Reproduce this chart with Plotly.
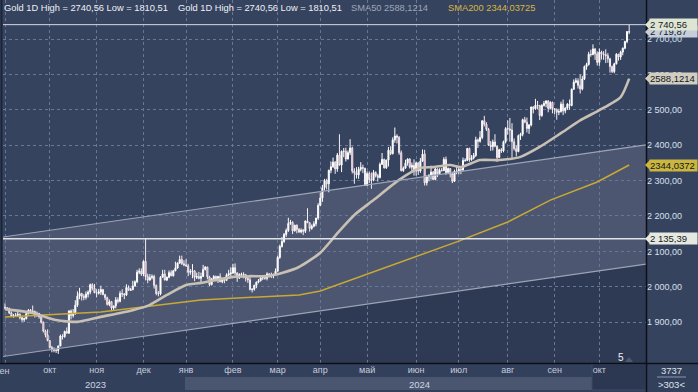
import plotly.graph_objects as go
import pandas as pd

# ---------------- data ----------------
opens = [1942,1940,1939,1926,1916,1919,1919,1922,1913,1907,1910,1924,1934,1931,1930,1920,1925,1916,1900,1875,1864,
         1848,1828,1822,1821,1820,1833,1861,1859,1874,1869,1932,1919,1923,1948,1974,1981,1973,1970,1979,1985,2006,1996,
         1983,1982,1985,1992,1978,1969,1950,1958,1940,1946,1963,1959,1981,1980,1977,1998,1990,1992,2002,2014,2041,2044,
         2036,2072,2029,2019,2026,2029,2004,1981,1980,2027,2036,2019,2027,2040,2031,2045,2053,2067,2077,2065,
         2062,2059,2041,2043,2045,2027,2029,2024,2029,2049,2056,2028,2006,2023,2029,2022,2029,2014,2020,2018,2033,2037,
         2039,2054,2039,2025,2035,2036,2034,2024,2020,1992,1993,2004,2013,2017,2025,2026,2024,2036,2031,2033,2035,
         2044,2083,2114,2128,2148,2159,2179,2182,2158,2174,2162,2155,2160,2157,2186,2181,2165,2171,2178,2194,
         2230,2251,2280,2300,2291,2329,2339,2352,2333,2372,2344,2383,2383,2361,2379,2392,2327,2322,2316,2332,2337,2335,
         2286,2320,2303,2301,2323,2314,2309,2346,2360,2336,2358,2386,2376,2415,2426,2422,2379,2328,2335,2350,2361,2338,2343,
         2327,2350,2327,2355,2375,2294,2311,2316,2324,2303,2333,2319,2329,2328,2360,2322,2334,2319,2298,2327,
         2326,2332,2330,2357,2357,2391,2359,2364,2371,2415,2411,2422,2469,2459,2445,2400,2396,2409,2397,2365,2387,2384,2410,
         2447,2446,2443,2410,2390,2382,2427,2431,2472,2465,2447,2457,2508,2503,2513,2512,2484,2512,2518,2525,2504,2521,
         2503,2500,2493,2495,2516,2497,2505,2516,2512,2558,2578,2582,2569,2559,2587,2622,2628,2657,2656,2672,2658,
         2634,2663,2658,2656,2653,2644,2622,2608,2630,2657,2649,2663,2674,2693,2721]
highs = [1953,1943,1941,1930,1923,1926,1930,1925,1915,1913,1928,1937,1937,1947,1933,1930,1926,1917,1902,1879,1880,
         1850,1833,1829,1826,1834,1865,1866,1876,1885,1933,1936,1937,1962,1987,1997,1983,1979,1987,1990,2009,2010,2008,
         1993,1994,2003,1994,1980,1972,1964,1960,1947,1971,1970,1988,1993,1982,2007,2004,1997,2017,2018,2048,2052,2052,
         2075,2135.39,2037,2036,2035,2034,2006,1988,2030,2048,2048,2029,2046,2047,2048,2071,2069,2088,2088,2075,
         2078,2065,2050,2064,2047,2040,2042,2040,2062,2058,2056,2031,2023,2033,2032,2031,2038,2023,2025,2038,2048,2055,
         2065,2066,2041,2038,2040,2041,2036,2028,2031,1996,2006,2015,2022,2031,2031,2034,2041,2039,2040,2037,2052,
         2088,2119,2141,2152,2165,2195,2189,2185,2175,2176,2166,2165,2163,2187,2222,2183,2176,2185,2195,2236,
         2266,2288,2305,2305,2331,2354,2365,2355,2378,2431,2385,2392,2393,2385,2417,2396,2335,2338,2339,2352,2345,2336,
         2326,2326,2323,2330,2326,2319,2351,2378,2362,2359,2395,2397,2422,2450,2431,2426,2385,2340,2359,2363,2363,2351,2360,
         2354,2352,2364,2388,2387,2315,2317,2342,2327,2339,2334,2335,2336,2366,2368,2337,2335,2325,2331,2339,
         2339,2335,2365,2363,2392,2393,2372,2378,2424,2419,2440,2470,2483,2465,2449,2412,2416,2431,2399,2390,2392,2413,2451,
         2470,2477,2462,2419,2400,2430,2435,2475,2480,2478,2460,2509,2510,2531,2525,2514,2516,2525,2527,2527,2524,2523,
         2505,2504,2503,2523,2529,2507,2519,2529,2560,2586,2590,2589,2600,2596,2625,2633,2664,2670,2685,2674,2665,
         2673,2667,2666,2671,2660,2647,2625,2633,2660,2658,2667,2676,2695,2722,2740.56]
lows = [1936,1935,1923,1915,1913,1915,1917,1908,1901,1901,1908,1922,1927,1928,1913,1915,1910,1896,1871,1857,1846,
        1827,1815,1815,1813,1810.51,1832,1851,1856,1868,1867,1908,1913,1922,1943,1965,1961,1962,1964,1970,1979,1990,1982,
        1970,1978,1977,1976,1962,1947,1945,1931,1932,1939,1953,1956,1971,1965,1974,1990,1988,1990,2001,2010,2036,2031,
        2030,2018,2010,2017,2021,1995,1976,1973,1976,2026,2018,2016,2024,2030,2029,2044,2051,2065,2062,2058,
        2057,2030,2034,2024,2016,2022,2021,2013,2028,2046,2021,2002,2004,2017,2015,2011,2014,2010,2010,2016,2030,2030,
        2036,2032,2014,2022,2028,2024,2015,2011,1990,1984,1989,1996,2010,2015,2019,2020,2018,2026,2025,2024,2031,
        2043,2079,2111,2124,2141,2155,2175,2149,2156,2151,2152,2151,2146,2152,2180,2156,2161,2168,2171,2189,
        2229,2240,2272,2275,2267,2321,2336,2319,2325,2342,2324,2366,2354,2360,2372,2320,2291,2306,2305,2326,2321,2285,
        2285,2293,2277,2298,2309,2297,2306,2344,2334,2333,2340,2372,2374,2407,2405,2373,2326,2325,2334,2342,2334,2323,2314,
        2314,2316,2322,2353,2286,2286,2298,2303,2301,2302,2310,2316,2326,2327,2316,2318,2309,2293,2296,2318,
        2318,2318,2327,2353,2355,2353,2356,2360,2367,2392,2407,2417,2453,2440,2398,2384,2385,2394,2353,2364,2378,2380,2405,
        2430,2410,2364,2385,2368,2380,2415,2425,2462,2436,2432,2453,2490,2500,2502,2471,2480,2509,2507,2493,2502,2490,
        2488,2472,2485,2492,2485,2490,2500,2500,2510,2556,2575,2560,2546,2555,2584,2613,2625,2650,2654,2641,2625,
        2624,2642,2641,2632,2633,2605,2604,2603,2628,2639,2641,2654,2671,2688,2714]
closes = [1940,1939,1926,1916,1919,1919,1922,1913,1907,1910,1924,1934,1931,1930,1920,1925,1916,1900,1875,1864,1848,
          1828,1822,1821,1820,1833,1861,1859,1874,1869,1932,1919,1923,1948,1974,1981,1973,1970,1979,1985,2006,1996,1983,
          1982,1985,1992,1978,1969,1950,1958,1940,1946,1963,1959,1981,1980,1977,1998,1990,1992,2002,2014,2041,2044,2036,
          2072,2029,2019,2026,2029,2004,1981,1980,2027,2036,2019,2027,2040,2031,2045,2053,2067,2077,2065,2062,
          2059,2041,2043,2045,2027,2029,2024,2029,2049,2056,2028,2006,2023,2029,2022,2029,2014,2020,2018,2033,2037,2039,
          2054,2039,2025,2035,2036,2034,2024,2020,1992,1993,2004,2013,2017,2025,2026,2024,2036,2031,2033,2035,2044,
          2083,2114,2128,2148,2159,2179,2182,2158,2174,2162,2155,2160,2157,2186,2181,2165,2171,2178,2194,2230,
          2251,2280,2300,2291,2329,2339,2352,2333,2372,2344,2383,2383,2361,2379,2392,2327,2322,2316,2332,2337,2335,2286,
          2320,2303,2301,2323,2314,2309,2346,2360,2336,2358,2386,2376,2415,2426,2422,2379,2328,2335,2350,2361,2338,2343,2327,
          2350,2327,2355,2375,2294,2311,2316,2324,2303,2333,2319,2329,2328,2360,2322,2334,2319,2298,2327,2326,
          2332,2330,2357,2357,2391,2359,2364,2371,2415,2411,2422,2469,2459,2445,2400,2396,2409,2397,2365,2387,2384,2410,2447,
          2446,2443,2410,2390,2382,2427,2431,2472,2465,2447,2457,2508,2503,2513,2512,2484,2512,2518,2525,2504,2521,2503,
          2500,2493,2495,2516,2497,2505,2516,2512,2558,2578,2582,2569,2559,2587,2622,2628,2657,2656,2672,2658,2634,
          2663,2658,2656,2653,2644,2622,2608,2630,2657,2649,2663,2674,2693,2721,2719.87]

# moving averages (indicator values at bar indices)
sma50_idx = [0,13,24,34,45,60,68,76,85,92,107,115,123,130,138,148,157,164,173,185,195,201,209,214,223,232,242,251,261,270,279,289,293]
sma50_val = [1937,1926,1906,1901,1915,1934,1949,1977,2005,2011,2028,2030,2030,2039,2056,2096,2158,2203,2245,2302,2336,2338,2344,2338,2358,2358,2367,2395,2434,2470,2499,2536,2588.1214]
sma200_idx = [0,45,92,107,138,148,169,192,213,236,256,278,293]
sma200_val = [1915,1929,1963,1968,1977,1988,2033,2084,2129,2183,2245,2296,2344.0372]

# price channel (values at the left and right edges of the view)
chan_x = [-0.94, 300.9]
chan_upper = [2140.6, 2401.0]
chan_lower = [1803.0, 2064.0]

price_ticks = [1900, 2000, 2100, 2200, 2300, 2400, 2500, 2600, 2700]
price_tick_text = ["1 900,00", "2 000,00", "2 100,00", "2 200,00", "2 300,00", "2 400,00", "2 500,00", "2 600,00", "2 700,00"]
month_names = ["сен", "окт", "ноя", "дек", "янв", "фев", "мар", "апр", "май", "июн", "июл", "авг", "сен", "окт"]

high_level = 2740.56
last_price = 2719.87
dec_high = 2135.39

# ---------------- x positions ----------------
dates = pd.bdate_range("2023-09-01", "2024-10-21")
dates = dates.drop([pd.Timestamp("2023-12-25"), pd.Timestamp("2024-01-01"), pd.Timestamp("2024-03-29")])
n = len(closes)
dates = dates[:n]
xs = list(range(n))
month_start = []
prev = None
for i, d in enumerate(dates):
    key = (d.year, d.month)
    if key != prev:
        month_start.append(i)
        prev = key

Y0, Y1 = 1784.7, 2810.2
X0, X1 = chan_x
PW, PH = 643.0, 363.0
L, T = 3, 0

def px(x):
    return (x - L) / PW

def py(y):
    return 1 - (y - T) / PH

FONT = "Liberation Sans, Arial, sans-serif"
GRID = "#687795"

fig = go.Figure()

fig.add_trace(go.Candlestick(
    x=xs, open=opens, high=highs, low=lows, close=closes,
    increasing=dict(line=dict(color="#ffffff", width=1), fillcolor="#ffffff"),
    decreasing=dict(line=dict(color="#f4eef2", width=1), fillcolor="#c8385a"),
    whiskerwidth=0, hoverinfo="skip",
))
fig.add_trace(go.Scatter(x=sma200_idx, y=sma200_val, mode="lines",
                         line=dict(color="#c9a935", width=1.5), hoverinfo="skip"))
fig.add_trace(go.Scatter(x=sma50_idx, y=sma50_val, mode="lines",
                         line=dict(color="#c8c0b4", width=2.6, shape="spline", smoothing=0.6), hoverinfo="skip"))

shapes = []
# channel fill and area below channel
shapes.append(dict(type="path", xref="x", yref="y", layer="below", line=dict(width=0),
                   fillcolor="#4c5670",
                   path=f"M {X0},{chan_upper[0]} L {X1},{chan_upper[1]} L {X1},{chan_lower[1]} L {X0},{chan_lower[0]} Z"))
shapes.append(dict(type="path", xref="x", yref="y", layer="below", line=dict(width=0),
                   fillcolor="#2e3a54",
                   path=f"M {X0},{chan_lower[0]} L {X1},{chan_lower[1]} L {X1},{Y0} L {X0},{Y0} Z"))
# channel borders
for arr in (chan_upper, chan_lower):
    shapes.append(dict(type="line", xref="x", yref="y", x0=X0, x1=X1, y0=arr[0], y1=arr[1],
                       line=dict(color="#9ca4b6", width=1.2)))
# horizontal levels
shapes.append(dict(type="line", xref="paper", yref="y", x0=0, x1=1, y0=high_level, y1=high_level,
                   line=dict(color="#d4d8e0", width=1)))
shapes.append(dict(type="line", xref="paper", yref="y", x0=0, x1=1, y0=dec_high, y1=dec_high,
                   line=dict(color="#dfe3ea", width=1.5)))

# bottom axis band (under the tick labels)
shapes.append(dict(type="rect", xref="paper", yref="paper", x0=px(0), x1=px(698), y0=py(363), y1=py(392),
                   fillcolor="#33405b", line=dict(width=0), layer="below"))
shapes.append(dict(type="rect", xref="paper", yref="paper", x0=px(185), x1=px(592), y0=py(377), y1=py(390),
                   fillcolor="#4a5570", line=dict(width=0), layer="below"))
shapes.append(dict(type="rect", xref="paper", yref="paper", x0=px(592), x1=px(646), y0=py(364), y1=py(390),
                   fillcolor="#2c3751", line=dict(color="#3e4a64", width=1), layer="below"))
# separators
shapes.append(dict(type="line", xref="paper", yref="paper", x0=px(0), x1=px(698), y0=py(363.5), y1=py(363.5),
                   line=dict(color="#0c0f16", width=1.5), layer="above"))
shapes.append(dict(type="line", xref="paper", yref="paper", x0=px(646.5), x1=px(646.5), y0=py(0), y1=py(392),
                   line=dict(color="#0c0f16", width=1.5), layer="above"))
shapes.append(dict(type="line", xref="paper", yref="paper", x0=px(657), x1=px(686), y0=py(377), y1=py(377),
                   line=dict(color="#8a96ae", width=1), layer="above"))
shapes.append(dict(type="line", xref="paper", yref="paper", x0=px(1.5), x1=px(1.5), y0=py(0), y1=py(363),
                   line=dict(color="#1c2538", width=2), layer="above"))
# small marker triangle next to the "5"
shapes.append(dict(type="path", xref="paper", yref="paper", fillcolor="#4e5a74", line=dict(width=0), layer="above",
                   path=f"M {px(625)},{py(362)} L {px(629)},{py(357)} L {px(633)},{py(362)} Z"))

annotations = []
# price tags on the right axis
tags = [
    (last_price, "2 719,87", "#c6cedc"),
    (high_level, "2 740,56", "#dfe5d3"),
    (sma50_val[-1], "2588,1214", "#d2cdc1"),
    (sma200_val[-1], "2344,0372", "#cbb640"),
    (dec_high, "2 135,39", "#e6e9df"),
]
for val, txt, col in tags:
    h = 5.0 / PH * (Y1 - Y0)
    shapes.append(dict(type="path", xref="paper", yref="y", fillcolor=col, line=dict(width=0), layer="above",
                       path=f"M {px(645)},{val} L {px(650)},{val + h} L {px(650)},{val - h} Z"))
    annotations.append(dict(xref="paper", yref="y", x=px(649), y=val, xanchor="left", yanchor="middle",
                            text=txt, showarrow=False, bgcolor=col, borderpad=0, width=47, align="left",
                            font=dict(family=FONT, size=9.5, color="#15181e")))

# header
hdr = [
    (3, "Gold 1D High = 2740,56 Low = 1810,51", "#eef1f6"),
    (177, "Gold 1D High = 2740,56 Low = 1810,51", "#eef1f6"),
    (350, "SMA50 2588,1214", "#9ea6b8"),
    (447, "SMA200 2344,03725", "#d6b640"),
]
for x, txt, col in hdr:
    annotations.append(dict(xref="paper", yref="paper", x=px(x), y=py(8), xanchor="left", yanchor="middle",
                            text=txt, showarrow=False, borderpad=0,
                            font=dict(family=FONT, size=9.3, color=col)))

def label(x, y, txt, size=9.5, col="#cdd5e3"):
    annotations.append(dict(xref="paper", yref="paper", x=px(x), y=py(y), xanchor="center", yanchor="middle",
                            text=txt, showarrow=False, borderpad=0, font=dict(family=FONT, size=size, color=col)))

label(2, 371, month_names[0], 9, "#c4ccdb")   # first month, cut by the left edge
label(95, 384, "2023")
label(419, 384, "2024")
label(621, 357, "5", 10, "#eef1f6")
label(671, 370, "3737", 9.5, "#dfe5ef")
label(671, 384, "&gt;303&lt;", 9.5, "#dfe5ef")

tick_text = [""] + month_names[1:len(month_start)]

fig.update_layout(
    width=698, height=392,
    margin=dict(l=3, r=52, t=0, b=29, autoexpand=False),
    paper_bgcolor="#36435f", plot_bgcolor="#36435f",
    showlegend=False,
    shapes=shapes, annotations=annotations,
    xaxis=dict(range=[X0, X1], rangeslider=dict(visible=False), showgrid=True, gridcolor=GRID, griddash="dot",
               gridwidth=1, zeroline=False, tickvals=month_start, ticktext=tick_text,
               tickfont=dict(family=FONT, size=9, color="#c4ccdb"), ticks="", showline=False, fixedrange=True,
               automargin=False),
    yaxis=dict(range=[Y0, Y1], side="right", showgrid=True, gridcolor=GRID, griddash="dot", gridwidth=1,
               zeroline=False, tickvals=price_ticks, ticktext=price_tick_text, ticks="", ticklabelstandoff=0,
               tickfont=dict(family=FONT, size=9, color="#d8e0ec"), showline=False, fixedrange=True,
               automargin=False),
)

fig.write_html("out.html", config={"displayModeBar": False},
               post_script="document.body.style.margin='0';document.body.style.overflow='hidden';")
